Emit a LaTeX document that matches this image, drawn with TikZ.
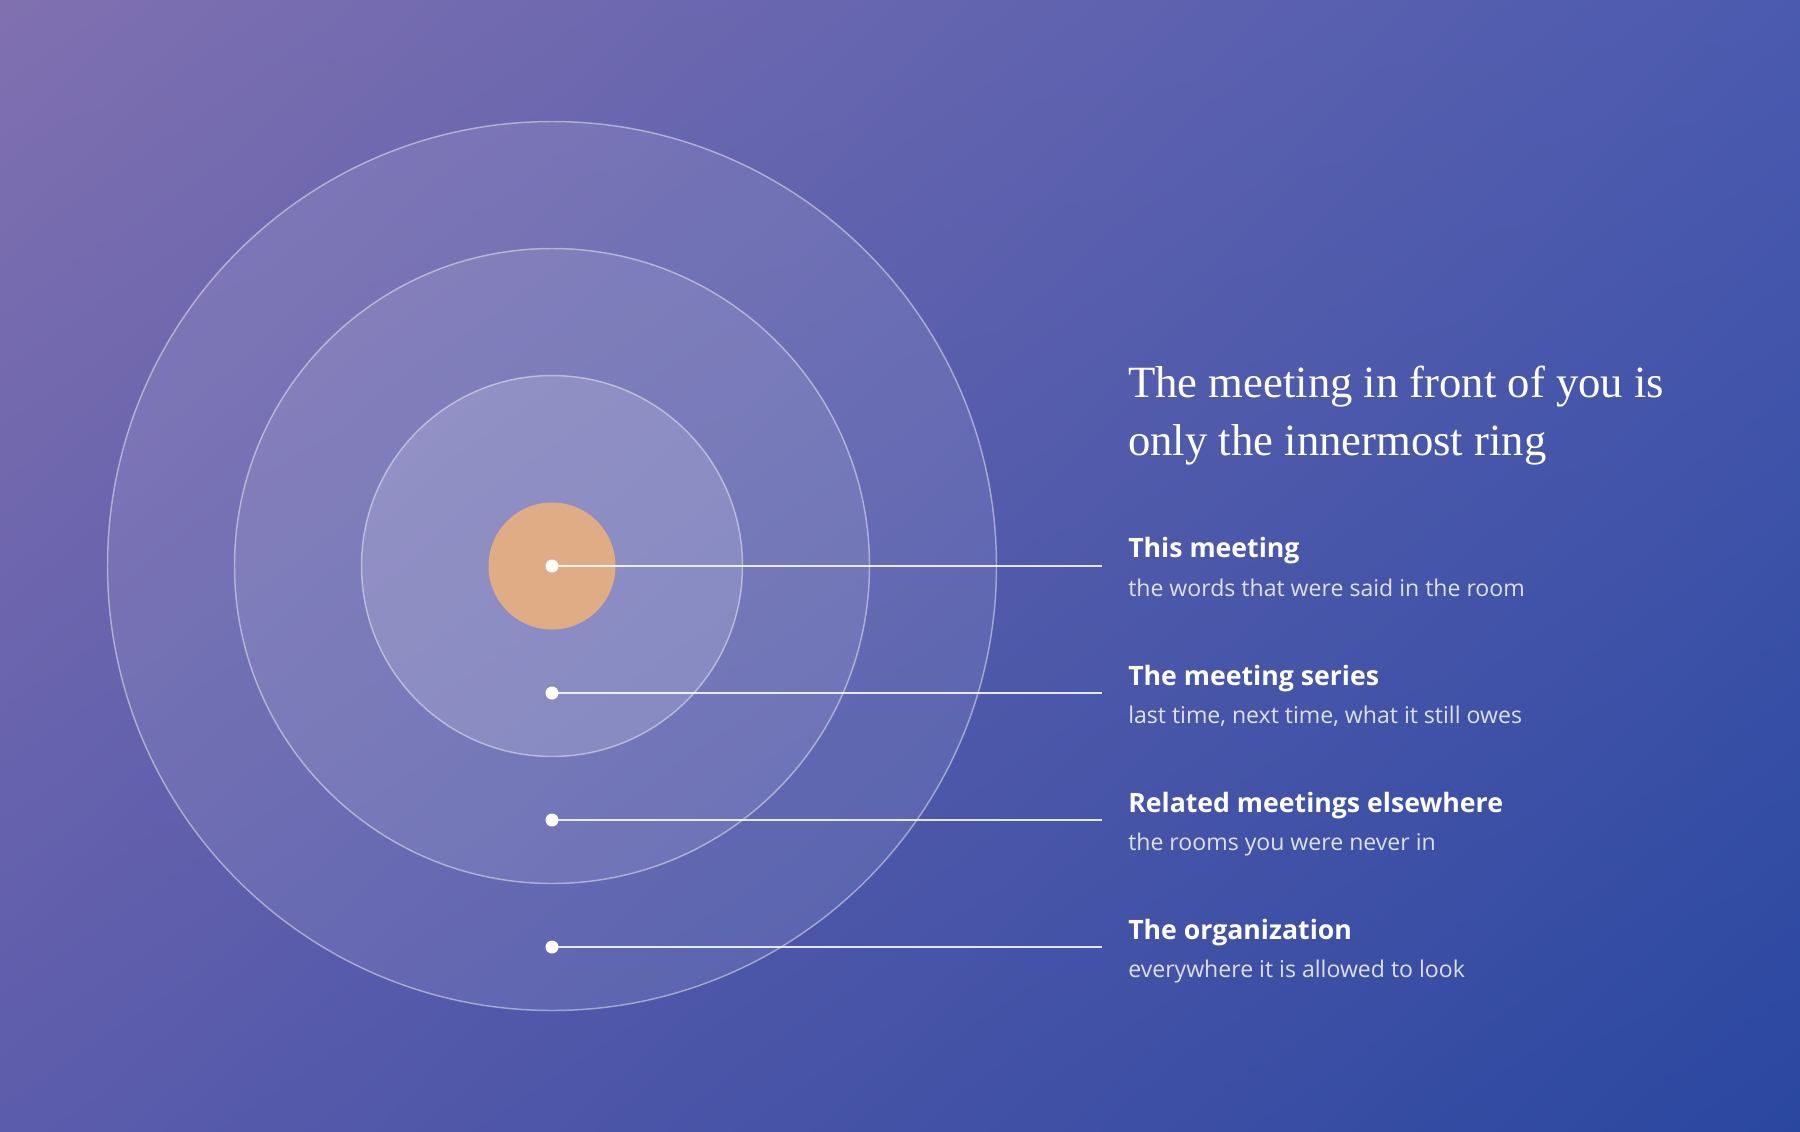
\documentclass[tikz,border=0pt]{standalone}
\usepackage{xcolor}
\usepackage{fontspec}
\usepackage{tikz}
\usetikzlibrary{shadings}
\setmainfont{Liberation Serif}
\newfontfamily\labelfont{Open Sans}

\definecolor{bgTL}{RGB}{128,112,176}
\definecolor{bgTR}{RGB}{75,90,175}
\definecolor{bgBL}{RGB}{92,92,172}
\definecolor{bgBR}{RGB}{42,71,160}
\definecolor{coreOrange}{RGB}{223,172,134}

\begin{document}
\begin{tikzpicture}[x=0.75pt,y=0.75pt,yscale=-1,xscale=1,
  ring/.style={draw=white,draw opacity=0.45,line width=1.1pt,fill=white},
  dot/.style={circle,fill=white,inner sep=0pt,minimum size=9.75pt},
  leader/.style={draw=white,draw opacity=0.85,line width=1.5pt},
  titletext/.style={anchor=base west,inner sep=0pt,text=white,font=\fontsize{33.5}{40}\selectfont},
  headtext/.style={anchor=base west,inner sep=0pt,text=white,font=\labelfont\bfseries\fontsize{20}{24}\selectfont},
  subtext/.style={anchor=base west,inner sep=0pt,text=white,text opacity=0.82,font=\labelfont\fontsize{17.3}{21}\selectfont}]
\useasboundingbox (0,0) rectangle (1800,1132);

%Shape: Background
\shade [upper left=bgTL,upper right=bgTR,lower left=bgBL,lower right=bgBR] (0,0) rectangle (1800,1132);

%Shape: Rings
\draw [ring,fill opacity=0.09] (552,566) circle [radius=444.5];
\draw [ring,fill opacity=0.09] (552,566) circle [radius=317.5];
\draw [ring,fill opacity=0.15] (552,566) circle [radius=190.5];
%Shape: Core
\node (core) [circle,fill=coreOrange,inner sep=0pt,minimum size=95.25pt] at (552,566) {};

%Dots
\node (dotMeeting) [dot] at (552,566) {};
\node (dotSeries) [dot] at (552,693) {};
\node (dotRelated) [dot] at (552,820) {};
\node (dotOrg) [dot] at (552,947) {};
\coordinate (endMeeting) at (1102,566);
\coordinate (endSeries) at (1102,693);
\coordinate (endRelated) at (1102,820);
\coordinate (endOrg) at (1102,947);

%Straight Lines
\draw [leader] (dotMeeting.center) -- (endMeeting);
\draw [leader] (dotSeries.center) -- (endSeries);
\draw [leader] (dotRelated.center) -- (endRelated);
\draw [leader] (dotOrg.center) -- (endOrg);

% Text Node
\node (titleA) [titletext] at (1128,397) {The meeting in front of you is};
\node (titleB) [titletext] at (1128,455) {only the innermost ring};
% Text Node
\node (headMeeting) [headtext] at (1128,557) {This meeting};
\node (subMeeting) [subtext] at (1128,596) {the words that were said in the room};
% Text Node
\node (headSeries) [headtext] at (1128,685) {The meeting series};
\node (subSeries) [subtext] at (1128,723) {last time, next time, what it still owes};
% Text Node
\node (headRelated) [headtext] at (1128,812) {Related meetings elsewhere};
\node (subRelated) [subtext] at (1128,850) {the rooms you were never in};
% Text Node
\node (headOrg) [headtext] at (1128,939) {The organization};
\node (subOrg) [subtext] at (1128,977) {everywhere it is allowed to look};
\end{tikzpicture}
\end{document}
